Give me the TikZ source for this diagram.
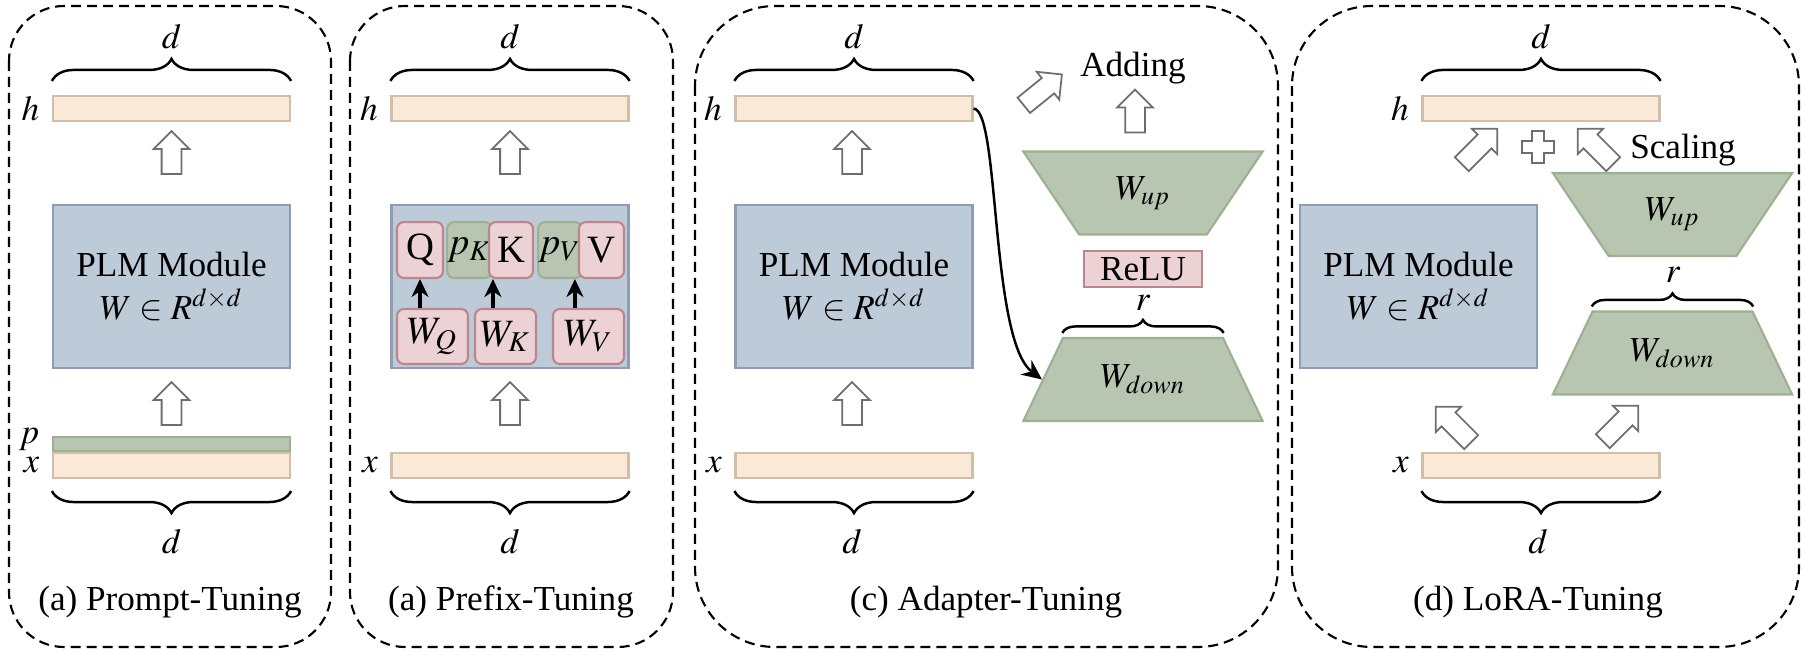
\documentclass[tikz,border=0pt]{standalone}
\usepackage{amsmath}
\usepackage{mathptmx}
\usepackage{fontspec}
\setmainfont{Liberation Serif}
\usepackage{tikz}
\usetikzlibrary{calc}
\usetikzlibrary{positioning}
\usetikzlibrary{shapes}
\usetikzlibrary{arrows.meta}
\usetikzlibrary{decorations.pathreplacing}

\definecolor{barfill}{HTML}{FBE9D7}
\definecolor{barline}{HTML}{D2BDA8}
\definecolor{plmfill}{HTML}{BDCAD7}
\definecolor{plmline}{HTML}{8E9DB3}
\definecolor{greenfill}{HTML}{B8C5B0}
\definecolor{greenline}{HTML}{9DB091}
\definecolor{pinkfill}{HTML}{ECD1D5}
\definecolor{pinkline}{HTML}{B9878D}
\definecolor{arrgray}{HTML}{6E6E6E}

\begin{document}
\begin{tikzpicture}[x=0.1mm, y=-0.1mm,
    panel/.style={draw, dash pattern=on 1mm off 0.6mm, line width=0.6pt, rounded corners=#1},
    bar/.style={draw=barline, fill=barfill, line width=0.6pt, minimum width=23.7mm, minimum height=2.5mm, inner sep=0pt},
    pbar/.style={bar, draw=greenline, fill=greenfill, minimum height=1.4mm},
    plm/.style={draw=plmline, fill=plmfill, line width=0.6pt, minimum width=23.7mm, minimum height=16.3mm, align=center},
    lab/.style={inner sep=0pt},
    hollow/.style={single arrow, draw=arrgray, fill=white, line width=0.5pt, inner sep=0pt, inner ysep=0.9mm, single arrow head extend=0.8mm, minimum height=4.3mm},
    qkv/.style={draw=pinkline, fill=pinkfill, rounded corners=0.7mm, line width=0.6pt, inner sep=0pt, minimum height=5.6mm, font=\fontsize{11}{13}\selectfont},
    pre/.style={qkv, draw=greenline, fill=greenfill},
    trap/.style={trapezium, trapezium stretches=true, trapezium angle=54, draw=greenline, fill=greenfill, line width=0.6pt, minimum width=24mm, minimum height=8.3mm, inner sep=0pt},
    brc/.style={decorate, decoration={brace, amplitude=#1}, line width=0.7pt},
    brc/.default=2.2mm,
    tip/.style={-{Stealth[length=1.8mm, width=1.7mm]}, line width=1.2pt},
  ]
    \useasboundingbox (0,0) rectangle (1805,653);

    % (a) prompt-tuning
    \draw[panel=5.5mm] (9,6) rectangle (331,647);
    \node[bar] (ha) at (171.5,108.5) {};
    \node[lab, left=1.2mm of ha] (hal) {$h$};
    \draw[brc] ([yshift=1.4mm]ha.north west) -- ([yshift=1.4mm]ha.north east);
    \node (dta) at (171.5,37) {$d$};
    \node[hollow, rotate=90] (ua) at (171.5,157.5) {};
    \node[plm] (ma) at (171.5,286.5) {PLM Module\\$W\in R^{d\times d}$};
    \node[hollow, rotate=90] (la) at (171.5,408.5) {};
    \node[pbar] (pa) at (171.5,444) {};
    \node[bar] (xa) at (171.5,465.5) {};
    \node[lab, left=1.2mm of pa, yshift=0.5mm] (pal) {$p$};
    \node[lab, left=1.2mm of xa] (xal) {$x$};
    \draw[brc] ([yshift=-1.2mm]xa.south east) -- ([yshift=-1.2mm]xa.south west);
    \node (dba) at (171.5,542) {$d$};
    \node (ta) at (170,602) {(a) Prompt-Tuning};

    % (b) prefix-tuning
    \draw[panel=5.5mm] (350,6) rectangle (673,647);
    \node[bar] (hb) at (510,108.5) {};
    \node[lab, left=1.2mm of hb] (hbl) {$h$};
    \draw[brc] ([yshift=1.4mm]hb.north west) -- ([yshift=1.4mm]hb.north east);
    \node (dtb) at (510,37) {$d$};
    \node[hollow, rotate=90] (ub) at (510,157.5) {};
    \node[plm] (mb) at (510,286.5) {};
    \node[qkv, minimum width=4.6mm] (q) at (420,250) {Q};
    \node[pre, minimum width=3.7mm] (pk) at (469.5,250) {$p_K$};
    \node[qkv, minimum width=4.4mm] (k) at (511,250) {K};
    \node[pre, minimum width=3.8mm] (pv) at (560,250) {$p_V$};
    \node[qkv, minimum width=4.5mm] (v) at (601.5,250) {V};
    \node[qkv, minimum width=7.1mm, minimum height=5.5mm] (wq) at (432.5,336.5) {$W_Q$};
    \node[qkv, minimum width=6.1mm, minimum height=5.5mm] (wk) at (505.5,336.5) {$W_K$};
    \node[qkv, minimum width=7.1mm, minimum height=5.5mm] (wv) at (588.5,336.5) {$W_V$};
    \draw[tip] (q.south |- wq.north) -- (q.south);
    \draw[tip] ([xshift=0.5mm]k.south west |- wk.north) -- ([xshift=0.5mm]k.south west);
    \draw[tip] ([xshift=-0.8mm]pv.south east |- wv.north) -- ([xshift=-0.8mm]pv.south east);
    \node[hollow, rotate=90] (lb) at (510,408.5) {};
    \node[bar] (xb) at (510,465.5) {};
    \node[lab, left=1.2mm of xb] (xbl) {$x$};
    \draw[brc] ([yshift=-1.2mm]xb.south east) -- ([yshift=-1.2mm]xb.south west);
    \node (dbb) at (510,542) {$d$};
    \node (tb) at (511,602) {(a) Prefix-Tuning};

    % (c) adapter-tuning
    \draw[panel=8mm] (695,6) rectangle (1278,647);
    \node[bar] (hc) at (854,108.5) {};
    \node[lab, left=1.2mm of hc] (hcl) {$h$};
    \draw[brc] ([yshift=1.4mm]hc.north west) -- ([yshift=1.4mm]hc.north east);
    \node (dtc) at (854,37) {$d$};
    \node[hollow, rotate=90] (uc) at (852,157.5) {};
    \node[plm] (mc) at (854,286.5) {PLM Module\\$W\in R^{d\times d}$};
    \node[hollow, rotate=90] (lc) at (852,408.5) {};
    \node[bar] (xc) at (854,465.5) {};
    \node[lab, left=1.2mm of xc] (xcl) {$x$};
    \draw[brc] ([yshift=-1.2mm]xc.south east) -- ([yshift=-1.2mm]xc.south west);
    \node (dbc) at (852,542) {$d$};
    \node (tc) at (986,602) {(c) Adapter-Tuning};
    \node[trap, shape border rotate=180] (aup) at (1143,193) {$W_{up}$};
    \node[draw=pinkline, fill=pinkfill, line width=0.6pt, minimum width=11.8mm, minimum height=3.6mm, inner sep=0pt] (relu) at (1143,269) {ReLU};
    \node[trap] (adown) at (1143,379.5) {$W_{down}$};
    \draw[brc=1.3mm] ([yshift=0.4mm]adown.top left corner) -- ([yshift=0.4mm]adown.top right corner);
    \node[lab] (rc) at (1143,303) {$r$};
    \node[hollow, rotate=90] (uadd) at (1135,116) {};
    \node (add) at (1133,68) {Adding};
    \node[hollow, rotate=39, minimum height=4.9mm] (dadd) at (1039,93) {};
    \draw[-{Stealth[length=2mm, width=1.8mm]}, line width=0.7pt] (hc.east) .. controls (1000,110) and (990,340) .. (adown.left side);

    % (d) lora-tuning
    \draw[panel=8mm] (1292,6) rectangle (1799,647);
    \node[bar] (hd) at (1541,108.5) {};
    \node[lab, left=1.2mm of hd] (hdl) {$h$};
    \draw[brc] ([yshift=1.4mm]hd.north west) -- ([yshift=1.4mm]hd.north east);
    \node (dtd) at (1541,37) {$d$};
    \node[plm] (md) at (1418.5,286.5) {PLM Module\\$W\in R^{d\times d}$};
    \node[trap, shape border rotate=180] (lup) at (1672.5,214.5) {$W_{up}$};
    \node[trap] (ldown) at (1672.5,353) {$W_{down}$};
    \draw[brc=1.3mm] ([yshift=0.4mm]ldown.top left corner) -- ([yshift=0.4mm]ldown.top right corner);
    \node[lab] (rd) at (1673,275) {$r$};
    \node[hollow, rotate=45, minimum height=5mm] (ul) at (1476,150) {};
    \node[hollow, rotate=135, minimum height=5mm] (ur) at (1599,150) {};
    \coordinate (plus) at (1538,147);
    \draw[draw=arrgray, fill=white, line width=0.5pt, shift={(plus)}]
      (-6,-16) -- (6,-16) -- (6,-6) -- (16,-6) -- (16,6) -- (6,6) -- (6,16)
      -- (-6,16) -- (-6,6) -- (-16,6) -- (-16,-6) -- (-6,-6) -- cycle;
    \node (scal) at (1683,150) {Scaling};
    \node[hollow, rotate=135, minimum height=5mm] (bl) at (1457,428) {};
    \node[hollow, rotate=45, minimum height=5mm] (br) at (1617,427) {};
    \node[bar] (xd) at (1541,465.5) {};
    \node[lab, left=1.2mm of xd] (xdl) {$x$};
    \draw[brc] ([yshift=-1.2mm]xd.south east) -- ([yshift=-1.2mm]xd.south west);
    \node (dbd) at (1538,542) {$d$};
    \node (td) at (1538,602) {(d) LoRA-Tuning};
\end{tikzpicture}
\end{document}
